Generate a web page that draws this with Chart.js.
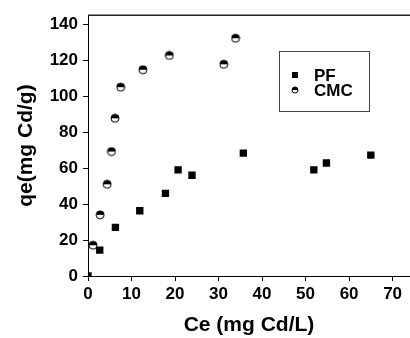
<!DOCTYPE html>
<html>
<head>
<meta charset="utf-8">
<script src="https://cdn.jsdelivr.net/npm/chart.js@4.4.1/dist/chart.umd.min.js"></script>
<style>
  html, body { margin: 0; padding: 0; background: #fff; }
  canvas { display: block; }
</style>
</head>
<body>
<canvas id="isoChart" width="410" height="338"></canvas>
<script>
// values
const pfCe = [0, 2.7, 6.3, 11.9, 17.8, 20.7, 23.9, 35.7, 51.9, 54.8, 65.0]
const pfQe = [0, 14.4, 27.0, 36.3, 45.9, 59.0, 56.0, 68.3, 59.0, 62.8, 67.2]
const cmcCe = [1.15, 2.8, 4.4, 5.4, 6.2, 7.5, 12.6, 18.7, 31.2, 33.9]
const cmcQe = [17.1, 34.0, 51.0, 69.2, 87.7, 105.0, 114.7, 122.6, 117.7, 132.2]
const xTicks = [0, 10, 20, 30, 40, 50, 60, 70]
const yTicks = [0, 20, 40, 60, 80, 100, 120, 140]
const seriesNames = ['PF', 'CMC']

const FONT = "'Liberation Sans', Arial, sans-serif"

// half filled circle (top black, bottom white)
function halfCircle(r) {
    const c = document.createElement('canvas')
    const s = Math.ceil(r * 2 + 2)
    c.width = s
    c.height = s
    const g = c.getContext('2d')
    const m = s / 2
    g.fillStyle = '#fff'
    g.beginPath(); g.arc(m, m, r, 0, Math.PI * 2); g.fill()
    g.fillStyle = '#000'
    g.beginPath(); g.arc(m, m, r, Math.PI, 0); g.closePath(); g.fill()
    g.strokeStyle = '#000'
    g.lineWidth = 1
    g.beginPath(); g.arc(m, m, r, 0, Math.PI * 2); g.stroke()
    return c
}
const circleBig = halfCircle(4)
const circleSmall = halfCircle(3)

const toPoints = (xs, ys) => xs.map((x, i) => ({x: x, y: ys[i]}))

// top frame line + boxed legend inside the plot
const framePlugin = {
    id: 'frame',
    afterDraw(chart) {
        const ctx = chart.ctx
        const a = chart.chartArea
        ctx.save()
        ctx.strokeStyle = '#222'
        ctx.lineWidth = 1.5
        ctx.beginPath()
        ctx.moveTo(a.left, a.top)
        ctx.lineTo(a.right, a.top)
        ctx.stroke()

        const xs = chart.scales.x, ys = chart.scales.y
        // legend box anchored in data units
        const bx = Math.round(xs.getPixelForValue(44.0)), by = Math.round(ys.getPixelForValue(125.3))
        const bw = 90, bh = 60
        ctx.lineWidth = 1
        ctx.strokeStyle = '#444'
        ctx.strokeRect(bx + 0.5, by + 0.5, bw, bh)

        ctx.fillStyle = '#000'
        ctx.fillRect(bx + 13, by + 21, 6, 6)
        ctx.drawImage(circleSmall, bx + 16 - circleSmall.width / 2, by + 39 - circleSmall.height / 2)

        ctx.font = 'bold 17px ' + FONT
        ctx.textBaseline = 'middle'
        ctx.textAlign = 'left'
        ctx.fillText(seriesNames[0], bx + 35, by + 25)
        ctx.fillText(seriesNames[1], bx + 35, by + 40)
        ctx.restore()
    }
}

new Chart('isoChart', {
    type: 'scatter',
    data: {
        datasets: [
            {
                label: seriesNames[0],
                data: toPoints(pfCe, pfQe),
                pointStyle: 'rect',
                pointRadius: 5.2,
                backgroundColor: '#000',
                borderColor: '#000',
                borderWidth: 0,
                clip: 0
            },
            {
                label: seriesNames[1],
                data: toPoints(cmcCe, cmcQe),
                pointStyle: circleBig,
                pointRadius: 5,
                clip: 0
            }
        ]
    },
    options: {
        responsive: false,
        animation: false,
        devicePixelRatio: 1,
        layout: { autoPadding: false, padding: { top: 13, right: 0, left: 0, bottom: 0 } },
        plugins: {
            legend: { display: false },
            tooltip: { enabled: false }
        },
        scales: {
            x: {
                type: 'linear',
                min: 0,
                max: 74,
                afterBuildTicks: (s) => { s.ticks = xTicks.map(v => ({value: v})) },
                afterFit: (s) => { s.height = 62; s.paddingRight = 0; s.paddingLeft = 0 },
                grid: { drawOnChartArea: false, drawTicks: true, tickLength: 5, color: '#000', lineWidth: 1 },
                border: { color: '#000', width: 1 },
                ticks: { color: '#000', padding: 3, maxRotation: 0, font: { family: FONT, size: 17, weight: 'bold' } },
                title: {
                    display: true,
                    text: 'Ce (mg Cd/L)',
                    color: '#000',
                    padding: { top: 0, bottom: 0 },
                    font: { family: FONT, size: 21, weight: 'bold' }
                }
            },
            y: {
                type: 'linear',
                min: 0,
                max: 145,
                afterBuildTicks: (s) => { s.ticks = yTicks.map(v => ({value: v})) },
                afterFit: (s) => { s.width = 88 },
                grid: { drawOnChartArea: false, drawTicks: true, tickLength: 5, color: '#000', lineWidth: 1 },
                border: { color: '#000', width: 1 },
                ticks: { color: '#000', padding: 5, font: { family: FONT, size: 17, weight: 'bold' } },
                title: {
                    display: true,
                    text: 'qe(mg Cd/g)',
                    color: '#000',
                    padding: { top: 14, bottom: 0 },
                    font: { family: FONT, size: 21, weight: 'bold' }
                }
            }
        }
    },
    plugins: [framePlugin]
})
</script>
</body>
</html>
